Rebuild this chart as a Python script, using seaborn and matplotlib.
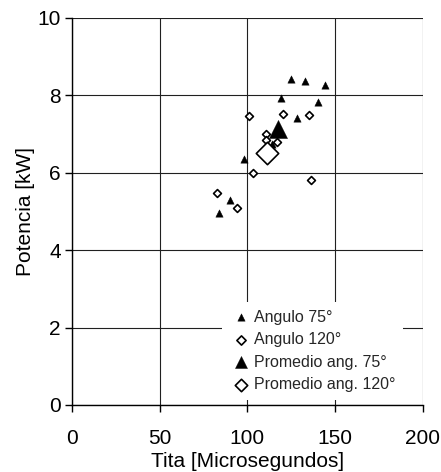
import matplotlib
matplotlib.use("Agg")
import matplotlib.pyplot as plt
import seaborn as sns
import pandas as pd

# Data
tita_75 = [84.1, 90.0, 98.2, 113.8, 119.1, 125.0, 133.0, 144.0, 140.2, 128.0]
pot_75 = [4.96, 5.30, 6.36, 6.75, 7.92, 8.41, 8.37, 8.26, 7.83, 7.41]
tita_120 = [82.8, 94.2, 103.1, 101.0, 110.8, 110.8, 117.0, 120.0, 135.0, 136.2]
pot_120 = [5.48, 5.10, 5.99, 7.46, 6.99, 6.85, 6.80, 7.53, 7.49, 5.81]
tita_prom75 = [117.6]
pot_prom75 = [7.13]
tita_prom120 = [110.9]
pot_prom120 = [6.51]
labels = ["Angulo 75°", "Angulo 120°", "Promedio ang. 75°", "Promedio ang. 120°"]
x_ticks = [0, 50, 100, 150, 200]
y_ticks = [0, 2, 4, 6, 8, 10]

sns.set_theme(style="white")
plt.rcParams['font.family'] = ['Liberation Sans', 'DejaVu Sans']

fig = plt.figure(figsize=(4.41, 4.72), dpi=100)
ax = fig.add_axes([0.163, 0.142, 0.796, 0.820])

df75 = pd.DataFrame({"x": tita_75, "y": pot_75})
df120 = pd.DataFrame({"x": tita_120, "y": pot_120})
dfp75 = pd.DataFrame({"x": tita_prom75, "y": pot_prom75})
dfp120 = pd.DataFrame({"x": tita_prom120, "y": pot_prom120})

sns.scatterplot(data=df75, x="x", y="y", ax=ax, marker="^", s=28, color="black",
                edgecolor="black", linewidth=0.3, label=labels[0], zorder=3)
sns.scatterplot(data=df120, x="x", y="y", ax=ax, marker="D", s=16, facecolor="white",
                edgecolor="black", linewidth=1.2, label=labels[1], zorder=3)
sns.scatterplot(data=dfp75, x="x", y="y", ax=ax, marker="^", s=170, color="black",
                edgecolor="black", linewidth=0.3, label=labels[2], zorder=4)
sns.scatterplot(data=dfp120, x="x", y="y", ax=ax, marker="D", s=130, facecolor="white",
                edgecolor="black", linewidth=1.2, label=labels[3], zorder=4)

ax.set_xlim(0, 200)
ax.set_ylim(0, 10)
ax.set_xticks(x_ticks)
ax.set_yticks(y_ticks)
ax.grid(True, color="#202020", linewidth=0.8)
ax.set_axisbelow(True)
for s in ["top", "right"]:
    ax.spines[s].set_visible(False)
for s in ["left", "bottom"]:
    ax.spines[s].set_color("black")
    ax.spines[s].set_linewidth(1.0)
ax.tick_params(axis="both", which="both", direction="out", length=5, width=1,
               color="black", labelsize=15, labelcolor="black", bottom=True, left=True)
ax.tick_params(axis="x", pad=12)
ax.tick_params(axis="y", pad=3)
ax.set_xlabel("Tita [Microsegundos]", fontsize=15, color="black", labelpad=3)
ax.set_ylabel("Potencia [kW]", fontsize=15, color="black", labelpad=2)

leg = ax.legend(loc="lower left", bbox_to_anchor=(0.405, -0.008), frameon=True,
                fontsize=11.5, handletextpad=0.1, borderpad=0.5, labelspacing=0.47,
                handlelength=1.4, fancybox=False)
leg.get_frame().set_facecolor("white")
leg.get_frame().set_edgecolor("none")
leg.get_frame().set_alpha(1)
for h, sz in zip(leg.legend_handles, [28, 22, 75, 40]):
    h.set_sizes([sz])

fig.savefig("out.png", dpi=100)
